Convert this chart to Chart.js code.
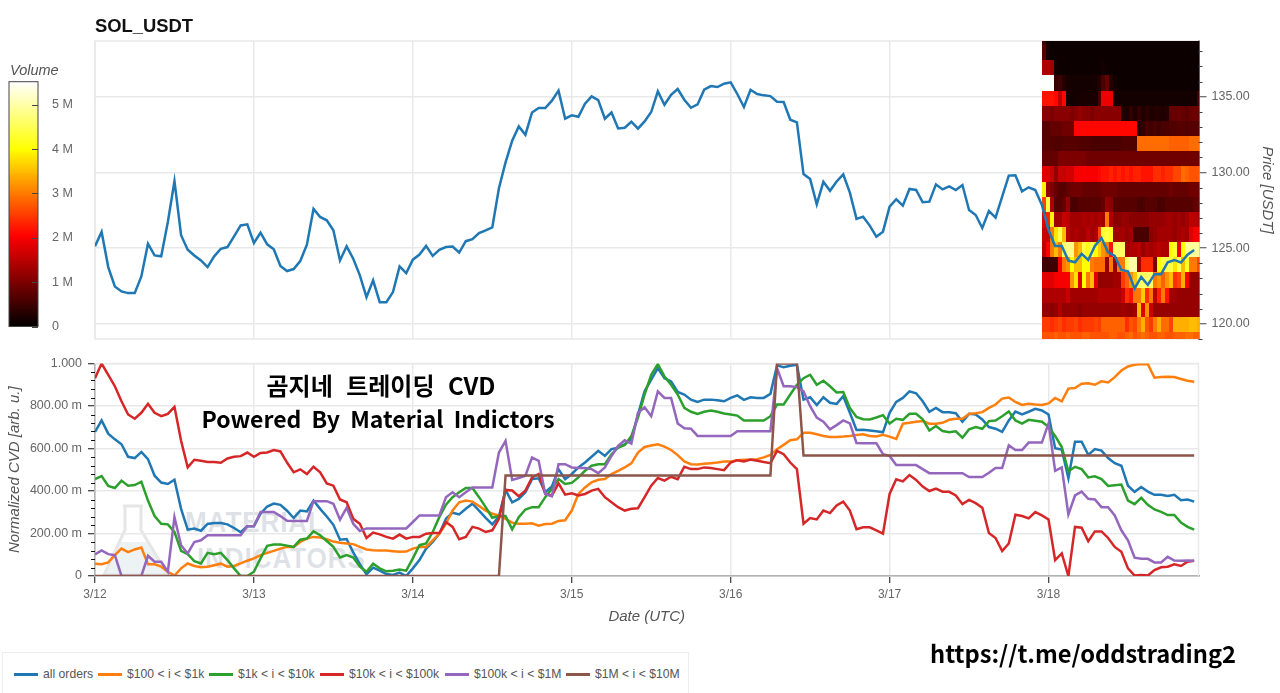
<!DOCTYPE html>
<html>
<head>
<meta charset="utf-8">
<title>SOL_USDT CVD</title>
<script src="https://cdn.jsdelivr.net/npm/chart.js@4"></script>
<style>
    html, body { margin: 0; padding: 0; background: #fff; width: 1280px; height: 693px; overflow: hidden; }
    body { position: relative; font-family: "Liberation Sans", Arial, sans-serif; }
    canvas { position: absolute; }
    .label { position: absolute; white-space: nowrap; }
    #title { left: 95px; top: 15px; font-size: 18.4px; font-weight: bold; color: #111; }
    #volumeTitle { left: 10px; top: 62px; font-size: 14.5px; font-style: italic; color: #555; }
    .overlay { font-family: "Noto Sans CJK KR", sans-serif; font-weight: 700; color: #000; transform: translateX(-50%); }
    #overlay1 { left: 381px; top: 367px; font-size: 24px; word-spacing: 8px; }
    #overlay2 { left: 378px; top: 401px; font-size: 23px; word-spacing: 5px; }
    #link { left: 1083px; top: 636px; font-size: 23.7px; }
    .mark { font-weight: bold; color: rgba(150, 165, 180, 0.32); font-size: 30px; letter-spacing: 1px; transform: scaleX(0.87); transform-origin: left; }
    #flask { position: absolute; left: 100px; top: 500px; }
    #legend { position: absolute; left: 2px; top: 652px; width: 685px; height: 40px; border: 1px solid #eee; background: #fff; font-size: 12.2px; color: #555; }
    #legend i { position: absolute; top: 20px; width: 24px; height: 2.5px; }
    #legend span { position: absolute; top: 14px; white-space: nowrap; }
</style>
</head>
<body>
<svg id="flask" width="75" height="80">
    <path d="M20 42 L48 42 L70 75 L5 75 Z" fill="#edf2f4"/>
    <path d="M23 6 L43 6 M25 6 L25 30 L4 75 L68 75 L41 30 L41 6" fill="none" stroke="#e6e6e6" stroke-width="3"/>
</svg>
<div class="label mark" style="left:185px;top:505px">MATERIAL</div>
<div class="label mark" style="left:197px;top:541px">INDICATORS</div>

<canvas id="priceChart" width="1280" height="355" style="left:0;top:0"></canvas>
<canvas id="volumeBar" width="90" height="288" style="left:0;top:60px"></canvas>
<canvas id="cvdChart" width="1280" height="290" style="left:0;top:350px"></canvas>

<div id="title" class="label">SOL_USDT</div>
<div id="volumeTitle" class="label">Volume</div>
<div id="overlay1" class="label overlay">곰지네 트레이딩 CVD</div>
<div id="overlay2" class="label overlay">Powered By Material Indictors</div>
<div id="link" class="label overlay">https://t.me/oddstrading2</div>
<div id="legend"></div>

<script>
// hourly values
const dayLabels = ['3/12', '3/13', '3/14', '3/15', '3/16', '3/17', '3/18'];
const priceTickLabels = ['120.00', '125.00', '130.00', '135.00'];
const priceMinorTicks = [119, 121, 122, 123, 124, 126, 127, 128, 129, 131, 132, 133, 134, 136, 137, 138];
const cvdTickLabels = ['0', '200.00 m', '400.00 m', '600.00 m', '800.00 m', '1.000'];
const cvdMinorTicks = [0.04, 0.08, 0.12, 0.16, 0.24, 0.28, 0.32, 0.36, 0.44, 0.48, 0.52, 0.56, 0.64, 0.68, 0.72, 0.76, 0.84, 0.88, 0.92, 0.96];
const volumeTickLabels = ['0', '1 M', '2 M', '3 M', '4 M', '5 M'];

const seriesNames = ['all orders', '$100 < i < $1k', '$1k < i < $10k', '$10k < i < $100k', '$100k < i < $1M', '$1M < i < $10M'];
const seriesColors = ['#1f77b4', '#ff7f0e', '#2ca02c', '#d62728', '#9467bd', '#8c564b'];
const legendLefts = [11, 95, 206, 317, 442, 563];

const price = [
    125.12, 126.07, 123.75, 122.47, 122.14, 122.03, 122.03, 123.13, 125.29, 124.52,
    124.46, 126.73, 129.42, 125.85, 124.9, 124.52, 124.19, 123.75, 124.46, 124.96,
    125.07, 125.78, 126.5, 126.57, 125.34, 126.02, 125.25, 124.92, 123.82, 123.49,
    123.62, 124.15, 125.23, 127.59, 127.06, 126.84, 126.18, 124.19, 125.12, 124.3,
    123.2, 121.76, 122.87, 121.43, 121.43, 122.1, 123.79, 123.35, 124.24, 124.58,
    125.15, 124.49, 124.89, 125.07, 125.11, 124.71, 125.46, 125.59, 125.99, 126.17,
    126.37, 128.96, 130.66, 132.09, 133.04, 132.49, 133.96, 134.25, 134.25, 134.74,
    135.4, 133.55, 133.77, 133.68, 134.54, 135.02, 134.78, 133.55, 133.96, 132.91,
    132.95, 133.35, 132.89, 133.37, 133.99, 135.35, 134.47, 135.13, 135.51, 134.8,
    134.27, 134.49, 135.46, 135.7, 135.64, 135.86, 135.95, 135.18, 134.32, 135.46,
    135.18, 135.09, 135.04, 134.67, 134.65, 133.48, 133.3, 129.89, 129.56, 127.89,
    129.38, 128.79, 129.4, 129.87, 128.67, 126.93, 127.08, 126.49, 125.76, 126.09,
    127.74, 128.23, 127.81, 128.91, 128.84, 128.03, 128.07, 129.21, 128.88, 129.08,
    128.84, 129.17, 127.52, 127.19, 126.33, 127.46, 127.02, 128.4, 129.79, 129.81,
    128.75, 129.02, 128.84, 127.85, 126.2, 125.15, 125.15, 124.18, 124.07, 124.62,
    124.22, 125.15, 125.67, 124.73, 124.49, 123.56, 123.47, 122.33, 123.1, 122.57,
    123.28, 123.28, 124.07, 124.22, 124.05, 124.57, 124.88
];

const allOrders = [
    .678, .732, .67, .643, .62, .561, .555, .584, .55, .472,
    .44, .433, .453, .316, .218, .223, .213, .245, .249, .249,
    .243, .226, .206, .234, .234, .293, .327, .341, .335, .307,
    .273, .308, .304, .355, .316, .28, .241, .171, .174, .111,
    .056, .008, .039, .025, .009, .005, .016, 0, .036, .075,
    .129, .16, .199, .269, .298, .29, .316, .34, .308, .274,
    .243, .28, .405, .347, .363, .394, .456, .46, .394, .421,
    .503, .456, .48, .511, .534, .561, .589, .565, .597, .604,
    .62, .643, .76, .869, .924, .978, .931, .916, .866, .854,
    .83, .819, .83, .83, .827, .822, .838, .85, .829, .841,
    .838, .838, .857, .991, .983, .989, .994, .83, .841, .804,
    .841, .815, .81, .846, .768, .687, .688, .685, .681, .676,
    .768, .819, .838, .869, .86, .822, .773, .791, .771, .771,
    .766, .726, .763, .76, .737, .701, .693, .678, .732, .774,
    .76, .773, .787, .779, .76, .601, .595, .46, .632, .632,
    .57, .597, .59, .555, .531, .519, .425, .396, .419, .397,
    .382, .382, .377, .382, .357, .36, .35
];

const orders100to1k = [
    .058, .055, .064, .098, .129, .112, .125, .134, .055, .055,
    .044, .02, .002, .036, .059, .047, .041, .044, .051, .058,
    .044, .047, .059, .072, .083, .098, .109, .118, .129, .137,
    .137, .16, .176, .184, .181, .173, .162, .156, .153, .15,
    .137, .125, .121, .12, .12, .117, .114, .115, .129, .137,
    .137, .168, .199, .246, .308, .347, .355, .35, .329, .308,
    .293, .285, .269, .251, .246, .246, .248, .237, .245, .246,
    .259, .262, .308, .386, .417, .441, .453, .456, .48, .495,
    .511, .53, .581, .607, .614, .62, .609, .593, .569, .539,
    .526, .525, .528, .531, .534, .539, .539, .545, .547, .547,
    .55, .558, .57, .597, .617, .639, .643, .674, .674, .667,
    .659, .654, .654, .656, .659, .664, .667, .659, .657, .665,
    .656, .645, .717, .721, .726, .729, .717, .717, .721, .735,
    .74, .74, .763, .766, .771, .791, .807, .835, .84, .819,
    .805, .81, .807, .805, .812, .838, .822, .882, .885, .905,
    .907, .9, .916, .911, .936, .967, .986, .994, .998, .997,
    .933, .936, .938, .936, .927, .919, .914
];

const orders1kto10k = [
    .456, .47, .424, .414, .449, .425, .428, .444, .355, .282,
    .246, .243, .207, .118, .103, .07, .059, .109, .103, .109,
    .075, .036, 0, 0, .02, .083, .142, .148, .148, .143,
    .137, .171, .176, .21, .192, .165, .137, .087, .098, .087,
    .044, .02, .058, .036, .022, .025, .031, .025, .083, .145,
    .153, .207, .277, .336, .371, .394, .414, .414, .371, .324,
    .274, .282, .282, .22, .277, .313, .324, .324, .371, .41,
    .456, .433, .438, .464, .495, .519, .526, .526, .573, .604,
    .617, .659, .745, .854, .947, .997, .939, .9, .854, .791,
    .773, .763, .773, .779, .773, .765, .76, .755, .732, .732,
    .732, .732, .752, .807, .807, .854, .9, .931, .947, .9,
    .919, .893, .864, .866, .791, .748, .738, .737, .746, .757,
    .718, .74, .735, .763, .763, .737, .685, .706, .682, .676,
    .681, .651, .69, .701, .693, .729, .732, .752, .774, .732,
    .717, .735, .731, .726, .702, .659, .607, .492, .514, .503,
    .464, .469, .456, .424, .427, .43, .355, .338, .368, .335,
    .313, .302, .287, .287, .251, .231, .218
];

const orders10kto100k = [
    .931, 1, .947, .893, .822, .76, .74, .768, .81, .768,
    .752, .763, .796, .636, .511, .547, .542, .536, .537, .533,
    .553, .561, .564, .581, .561, .579, .581, .593, .586, .534,
    .488, .502, .48, .514, .488, .436, .425, .36, .347, .269,
    .246, .179, .204, .196, .184, .176, .195, .176, .184, .184,
    .199, .202, .202, .254, .231, .173, .184, .231, .223, .207,
    .215, .269, .405, .402, .375, .402, .464, .48, .386, .379,
    .436, .383, .389, .379, .386, .402, .41, .371, .347, .324,
    .308, .316, .319, .371, .425, .461, .449, .467, .456, .514,
    .503, .503, .511, .508, .503, .498, .534, .545, .539, .548,
    .542, .536, .531, .589, .573, .534, .503, .246, .273, .266,
    .308, .296, .332, .35, .308, .22, .229, .229, .215, .199,
    .386, .455, .445, .475, .452, .421, .4, .411, .397, .396,
    .379, .338, .358, .343, .321, .202, .179, .117, .153, .288,
    .282, .271, .301, .285, .266, .075, .106, 0, .231, .227,
    .164, .21, .21, .179, .137, .114, .036, .002, .005, .002,
    .028, .041, .044, .055, .047, .067, .072
];

const orders100kto1M = [
    .101, .12, .103, .098, 0, 0, 0, 0, .095, .067,
    .067, .02, .277, .145, .106, .16, .168, .192, .192, .192,
    .192, .192, .192, .234, .235, .301, .301, .301, .282, .26,
    .259, .259, .259, .352, .352, .352, .34, .265, .321, .246,
    .212, .224, .224, .224, .224, .224, .224, .224, .254, .285,
    .285, .285, .285, .371, .394, .371, .394, .417, .417, .417,
    .417, .581, .636, .452, .461, .472, .558, .542, .386, .375,
    .526, .526, .511, .508, .508, .503, .484, .511, .565, .612,
    .639, .623, .768, .794, .752, .869, .838, .838, .718, .695,
    .693, .659, .659, .659, .659, .659, .659, .681, .681, .681,
    .681, .681, .681, .978, .893, .893, .889, .869, .799, .745,
    .726, .69, .71, .732, .718, .626, .625, .625, .625, .573,
    .565, .522, .522, .522, .522, .503, .484, .484, .484, .484,
    .484, .484, .466, .466, .466, .486, .508, .508, .615, .593,
    .593, .628, .628, .628, .718, .495, .511, .29, .379, .397,
    .363, .36, .324, .324, .285, .215, .168, .086, .081, .081,
    .064, .064, .09, .073, .072, .073, .072
];

const orders1Mto10M = [
    0, 0, 0, 0, 0, 0, 0, 0, 0, 0,
    0, 0, 0, 0, 0, 0, 0, 0, 0, 0,
    0, 0, 0, 0, 0, 0, 0, 0, 0, 0,
    0, 0, 0, 0, 0, 0, 0, 0, 0, 0,
    0, 0, 0, 0, 0, 0, 0, 0, 0, 0,
    0, 0, 0, 0, 0, 0, 0, 0, 0, 0,
    0, 0, .473, .473, .473, .473, .473, .473, .473, .473,
    .473, .473, .473, .473, .473, .473, .473, .473, .473, .473,
    .473, .473, .473, .473, .473, .473, .473, .473, .473, .473,
    .473, .473, .473, .473, .473, .473, .473, .473, .473, .473,
    .473, .473, .473, 1, 1, 1, 1, .567, .567, .567,
    .567, .567, .567, .567, .567, .567, .567, .567, .567, .567,
    .567, .567, .567, .567, .567, .567, .567, .567, .567, .567,
    .567, .567, .567, .567, .567, .567, .567, .567, .567, .567,
    .567, .567, .567, .567, .567, .567, .567, .567, .567, .567,
    .567, .567, .567, .567, .567, .567, .567, .567, .567, .567,
    .567, .567, .567, .567, .567, .567, .567
];

// heatmap: price edges of the rows, top to bottom, and volume (M) per 0.6 h column
const heatPriceEdges = [139.42, 138.42, 137.42, 136.42, 135.4, 134.4, 133.42, 132.4, 131.4, 130.42, 129.4, 128.4, 127.41, 126.42, 125.43, 124.44, 123.4, 122.4, 121.41, 120.44, 119.43, 118.42];
const heatStartHour = 143;
const heatColumnHours = 0.6;
const heatVolumes = [
    [.5, .1, .1, .1, .1, .1, .1, .1, .1, .1, .1, .1, .1, .1, .1, .1, .1, .1, .1, .1, .1, .1, .1, .1, .1, .1, .1, .1, .1, .1, .1, .1, .1, .1, .1, .1, .1, .1, .1, .1],
    [.7, .2, .1, .1, .1, .1, .1, .1, .1, .1, .1, .1, .1, .1, .1, .1, .1, .1, .1, .1, .1, .1, .1, .1, .1, .1, .1, .1, .1, .1, .1, .1, .1, .1, .1, .1, .1, .1, .1, .1],
    [1.4, 1.4, 1.3, .15, .1, .1, .1, .1, .1, .1, .1, .1, .1, .1, .1, .15, .1, .1, .1, .1, .1, .1, .1, .1, .1, .1, .1, .1, .1, .1, .1, .1, .1, .1, .1, .1, .1, .1, .1, .1],
    [5.5, 5.5, 5.5, .4, .5, .3, .2, .15, .15, .15, .15, .15, .15, .2, .3, .6, .8, .3, .15, .1, .1, .1, .1, .1, .1, .1, .1, .1, .1, .1, .1, .1, .1, .1, .1, .1, .1, .1, .1, .1],
    [2.2, 2.2, 2.2, 2.1, 1.5, 2.1, .2, .15, .15, .2, .2, .2, .2, .2, .6, 1.9, 1.9, 1.9, .2, .15, .15, .15, .15, .15, .15, .15, .15, .15, .15, .15, .15, .15, .15, .15, .15, .15, .15, .15, .15, .5],
    [1.1, 1.1, 1, 1.1, 1.1, 1.1, 1.1, 1, 1.1, 1.2, 1.1, 1.1, 1, 1.1, 1.1, 1.1, 1.1, 1.1, 1.1, 1.1, .3, .25, .4, .25, .4, .25, .35, .25, .3, .3, .25, .3, .8, .8, .85, .8, .75, .85, .85, .85],
    [.7, .7, .8, .8, .8, .9, .9, .9, 2.1, 2.1, 2.1, 2.1, 2.1, 2.1, 2.1, 2.1, 2.1, 2.1, 2.1, 2.1, 2.1, 2.1, 2.1, 2.1, .3, .4, .6, .5, .6, .5, .6, .6, .65, .65, .7, .7, .65, .7, .7, .7],
    [.7, .7, .7, .65, .65, .7, .7, .7, .7, .65, .65, .65, .6, .6, .6, .6, .6, .6, .6, .6, .65, .65, .65, .65, 2.9, 2.9, 2.9, 2.9, 2.9, 2.9, 2.9, 2.9, 2.8, 2.8, 2.8, 2.8, 2.8, 2.9, 2.9, 2.9],
    [.8, .8, .8, .8, 1, 1, 1, 1, 1, 1, 1, .9, .9, .9, .9, .9, .9, .9, .9, .9, .9, .9, .9, .9, .9, .9, .9, .9, .9, .9, .9, .9, .9, .9, .9, .9, .9, .9, .9, .9],
    [1.8, 1.8, 1.6, 1.2, 1.6, 1.6, 1.7, 1.7, 2, 2, 2, 2, 2, 2, 2.1, 2.2, 2.2, 2.3, 2.2, 2.3, 2.2, 2.3, 2.2, 2.3, 2.3, 2.2, 2.2, 2.2, 2.4, 2.4, 2.3, 2.4, 2.4, 2.6, 2.6, 2.9, 2.8, 2.7, 2.7, 2.7],
    [3.9, 1.2, 1, .8, .7, .7, .8, .9, .9, .9, .8, .8, .8, .8, .8, .9, .9, .9, .9, .8, .8, .8, .8, .8, .8, .8, .8, .8, .8, .8, .8, .8, .9, .8, .8, .8, .8, .9, .9, .9],
    [2.6, 4.4, 1.4, .7, .7, .8, 1.2, .6, .6, .7, .7, .7, .7, .7, .7, .8, 1.2, 1.1, .7, .7, .7, .7, .7, .7, .6, .6, .7, .7, .7, .6, .6, .7, .7, .7, .7, .7, .7, .7, .8, .8],
    [1.8, 2.3, 3.9, 1.3, 1.3, 1.6, 1.5, 1.3, 1.3, 1.3, 1.4, 1.3, 1.4, 1.3, 1.4, 1.3, 3, 1.4, 1.1, 1.1, 1.2, 1.2, 1.1, 1.1, 1.1, 1.1, 1.1, 1.2, 1.2, 1.2, 1.2, 1.3, 1.3, 1.2, 1.3, 1.2, 1.3, 1.5, 1.5, 1.4],
    [1.6, 1.6, 3, 3.8, 4.5, 3.5, 1.5, 1.3, 1.4, 1.3, 1.3, 1.5, 1.3, 1.4, 2.6, 4.3, 4.4, 4.2, 1.3, 1.3, 1.3, 1.2, 1.3, .6, .6, .6, .6, 1.1, 1.2, 1.3, 1.3, 1.3, 1.3, 1.2, 1.3, 1.4, 1.3, 1.8, 2, 2],
    [1.5, 2, 3, 3.5, 3, 4.5, 4.8, 4.8, 3.2, 3.5, 4.4, 4.1, 4.5, 4, 3.6, 3.2, 3, 2.2, 4.6, 4.6, 4.6, 1.3, 1.4, 1.4, 1.5, 1.2, 1.4, 1.3, 1.4, 1.5, 1.4, 1.4, 4, 4.3, 2, 4, 4.9, 4.9, 4.9, 4.9],
    [.5, .5, .5, .5, 2, 3, 3.2, 4, 3.5, 3.5, 4, 4, 3, 2.9, 2.9, 2.9, 1.2, 3, 1.2, 3, 3, 4.6, 5, 5, 1.3, 2.4, 2.4, 2.4, 1, 4, 4.4, 4.4, 4.4, 3.8, 4.5, 3.5, 4.2, 3, 3, 2.6],
    [1.8, 1.8, 1.8, 2, 2, 2, 2, 3.2, 3.8, 1.8, 4, 3, 3.5, 1.8, 1.2, 1.2, 1.2, 1.2, 1.3, 1.3, 2.5, 2.8, 3.2, 3.6, 4.6, 4.6, 4.6, 4.6, 3, 3.2, 2.8, 3.2, 3.5, 2.4, 2.6, 3.4, 2, 1.2, 1.2, 1.2],
    [1.4, 1.4, 1.4, 1.4, 1.4, 1.4, 1.6, 1.3, 1.3, 1.3, 1.3, 1.3, 1.3, 1.3, 1.4, 1.4, 1.4, 1.4, 1.4, 1.4, 1.6, 2.4, 2.2, 3, 3, 3.6, 2.4, 3, 1.5, 2.3, 3, 2.2, 1.3, 1.3, 1.2, 1.2, 1.2, 1.2, 1.2, 1.2],
    [1.2, 1.2, 1.1, 1.2, 1.4, 1.2, 1.2, 1.2, 1.2, 1.1, 1.2, 1.2, 1.2, 1.2, 1.2, 1.2, 1.2, 1.2, 1.2, 1.2, 1.3, 1.2, 1.2, 1.3, 3.5, 1.8, 3.2, 1.6, 1.2, 1.2, 1.2, 1.2, 1.2, 1.2, 1.2, 1.2, 1.2, 1.2, 1.2, 1.2],
    [2.5, 2.5, 2.4, 2.5, 2.6, 2.4, 2.5, 2.5, 2.6, 2.4, 2.5, 2.5, 2.5, 2.6, 2.5, 2.8, 2.8, 2.8, 2.8, 2.8, 2.8, 2.4, 2.7, 2.6, 3, 3.4, 2.7, 2.5, 3, 3.4, 2.9, 2.9, 2.6, 3.4, 3.4, 3.4, 3.4, 3.5, 3.5, 3.4],
    [2.7, 2.7, 2.7, 2.8, 2.7, 2.7, 2.8, 2.7, 2.7, 2.7, 2.8, 2.8, 2.7, 2.7, 2.7, 2.7, 2.7, 2.8, 2.8, 2.7, 2.7, 2.8, 2.9, 2.7, 2.8, 2.9, 2.8, 2.7, 2.7, 2.8, 2.8, 2.7, 2.7, 2.8, 2.8, 2.8, 2.9, 2.9, 2.8, 2.8]
];

// colour map of the heatmap and its colour bar
const colorStops = [0, 2.05, 3.05, 4, 5.52];
const colorStopRGB = [[0, 0, 0], [255, 0, 0], [255, 128, 0], [255, 255, 0], [255, 255, 255]];

function volumeColor(v) {
    let i = 0;
    while (i < colorStops.length - 2 && v > colorStops[i + 1]) i++;
    const t = Math.min(1, (v - colorStops[i]) / (colorStops[i + 1] - colorStops[i]));
    const a = colorStopRGB[i], b = colorStopRGB[i + 1];
    return `rgb(${a.map((c, k) => Math.round(c + (b[k] - c) * t)).join(',')})`;
}

const toPoints = values => values.map((v, i) => ({ x: i, y: v }));

// scale helpers
const GRID = '#e9e9e9';
const TICK_TEXT = '#666';
const AXIS_TITLE = { size: 15, style: 'italic' };

Chart.defaults.font.family = '"Liberation Sans", Arial, sans-serif';
Chart.defaults.font.size = 12.5;
Chart.defaults.color = TICK_TEXT;
Chart.defaults.animation = false;

const framePlugin = {
    id: 'frame',
    beforeDatasetsDraw(chart) {
        const { ctx, chartArea: a } = chart;
        ctx.save();
        ctx.strokeStyle = GRID;
        ctx.lineWidth = 1.5;
        ctx.strokeRect(a.left, a.top, a.right - a.left, a.bottom - a.top);
        ctx.restore();
    }
};

function minorTicksPlugin(scaleId, values, length, color) {
    return {
        id: 'minorTicks',
        afterDraw(chart) {
            const scale = chart.scales[scaleId];
            const dir = scale.position === 'right' ? 1 : -1;
            const x0 = dir > 0 ? scale.left : scale.right;
            const { ctx } = chart;
            ctx.save();
            ctx.strokeStyle = color;
            ctx.lineWidth = 1;
            values.forEach(v => {
                const y = Math.round(scale.getPixelForValue(v)) + 0.5;
                ctx.beginPath();
                ctx.moveTo(x0, y);
                ctx.lineTo(x0 + dir * length, y);
                ctx.stroke();
            });
            ctx.restore();
        }
    };
}

const heatmapPlugin = {
    id: 'heatmap',
    beforeDatasetsDraw(chart) {
        const { ctx, chartArea: a, scales: { x, y } } = chart;
        ctx.save();
        ctx.beginPath();
        ctx.rect(a.left, a.top, a.right - a.left + 1, a.bottom - a.top);
        ctx.clip();
        heatVolumes.forEach((row, r) => {
            const yTop = Math.round(y.getPixelForValue(heatPriceEdges[r]));
            const yBottom = Math.round(y.getPixelForValue(heatPriceEdges[r + 1]));
            row.forEach((v, c) => {
                const x0 = Math.round(x.getPixelForValue(heatStartHour + c * heatColumnHours));
                const x1 = Math.round(x.getPixelForValue(heatStartHour + (c + 1) * heatColumnHours));
                ctx.fillStyle = volumeColor(v);
                ctx.fillRect(x0, yTop, x1 - x0, yBottom - yTop);
            });
        });
        ctx.restore();
    }
};

const colorBarPlugin = {
    id: 'colorBar',
    beforeDraw(chart) {
        const { ctx, chartArea: a, scales: { y } } = chart;
        const steps = 256;
        for (let i = 0; i < steps; i++) {
            const v0 = y.max * i / steps, v1 = y.max * (i + 1) / steps;
            const yTop = Math.round(y.getPixelForValue(v1)), yBottom = Math.round(y.getPixelForValue(v0));
            ctx.fillStyle = volumeColor((v0 + v1) / 2);
            ctx.fillRect(a.left, yTop, a.right - a.left, yBottom - yTop);
        }
    },
    afterDraw(chart) {
        const { ctx, chartArea: a, scales: { y } } = chart;
        ctx.save();
        ctx.strokeStyle = '#444';
        ctx.lineWidth = 1;
        ctx.strokeRect(a.left, a.top, a.right - a.left, a.bottom - a.top);
        y.ticks.forEach(t => {
            const py = Math.round(y.getPixelForValue(t.value)) + 0.5;
            ctx.beginPath();
            ctx.moveTo(a.right - 6, py);
            ctx.lineTo(a.right, py);
            ctx.stroke();
        });
        ctx.restore();
    }
};

const xGrid = { color: GRID, lineWidth: 1.5 };

// Price chart with volume heatmap
new Chart(document.getElementById('priceChart'), {
    type: 'line',
    data: {
        datasets: [{
            label: 'Price',
            data: toPoints(price),
            borderColor: '#1f77b4',
            borderWidth: 2.5,
            pointRadius: 0,
            tension: 0
        }]
    },
    options: {
        responsive: false,
        layout: { padding: { left: 95, top: 41, bottom: 16, right: 0 } },
        plugins: { legend: { display: false }, tooltip: { enabled: false } },
        scales: {
            x: {
                type: 'linear',
                min: 0,
                max: 166.65,
                afterFit: s => { s.height = 0; },
                ticks: { display: false, stepSize: 24, includeBounds: false },
                grid: { ...xGrid, drawTicks: false },
                border: { display: false }
            },
            y: {
                type: 'linear',
                position: 'right',
                min: 119,
                max: 138.68,
                afterFit: s => { s.width = 81.5; },
                ticks: { stepSize: 5, includeBounds: false, padding: 5, callback: (v, i) => priceTickLabels[i] },
                grid: { color: GRID, lineWidth: 1.5, tickColor: '#444', tickLength: 8, tickWidth: 1 },
                border: { color: '#555', width: 1.5 },
                title: { display: true, text: 'Price [USDT]', font: AXIS_TITLE, color: '#555', padding: { top: 4, bottom: 0 } }
            }
        }
    },
    plugins: [framePlugin, heatmapPlugin, minorTicksPlugin('y', priceMinorTicks, 4, '#444')]
});

// Colour bar
new Chart(document.getElementById('volumeBar'), {
    type: 'line',
    data: { datasets: [] },
    options: {
        responsive: false,
        layout: { padding: { left: 9, top: 21.7, bottom: 12.7, right: 0 } },
        plugins: { legend: { display: false }, tooltip: { enabled: false } },
        scales: {
            x: { type: 'linear', display: false },
            y: {
                type: 'linear',
                position: 'right',
                min: 0,
                max: 5.52,
                afterFit: s => { s.width = 52; },
                ticks: { stepSize: 1, includeBounds: false, padding: 14, callback: (v, i) => volumeTickLabels[i] },
                grid: { drawOnChartArea: false, drawTicks: false },
                border: { display: false }
            }
        }
    },
    plugins: [colorBarPlugin]
});

// Normalized CVD chart
const cvdSeries = [allOrders, orders100to1k, orders1kto10k, orders10kto100k, orders100kto1M, orders1Mto10M];

new Chart(document.getElementById('cvdChart'), {
    type: 'line',
    data: {
        datasets: cvdSeries.map((values, i) => ({
            label: seriesNames[i],
            data: toPoints(values),
            borderColor: seriesColors[i],
            borderWidth: 2.5,
            pointRadius: 0,
            tension: 0,
            order: cvdSeries.length - i
        }))
    },
    options: {
        responsive: false,
        layout: { padding: { left: 0, top: 11, bottom: 0, right: 81.5 } },
        plugins: { legend: { display: false }, tooltip: { enabled: false } },
        scales: {
            x: {
                type: 'linear',
                min: 0,
                max: 166.65,
                afterFit: s => { s.height = 64; },
                ticks: { stepSize: 24, includeBounds: false, autoSkip: false, maxRotation: 0, padding: 4, font: { size: 12 }, callback: (v, i) => dayLabels[i] },
                grid: { ...xGrid, tickColor: '#111', tickLength: 7, tickWidth: 1 },
                border: { color: '#111', width: 1.5 },
                title: { display: true, text: 'Date (UTC)', font: AXIS_TITLE, color: '#555', padding: { top: 0, bottom: 14 } }
            },
            y: {
                type: 'linear',
                position: 'left',
                min: 0,
                max: 1,
                afterFit: s => { s.width = 95; },
                ticks: { stepSize: 0.2, includeBounds: false, padding: 6, callback: (v, i) => cvdTickLabels[i] },
                grid: { color: GRID, lineWidth: 1.5, tickColor: '#111', tickLength: 7, tickWidth: 1 },
                border: { color: '#111', width: 1.5 },
                title: { display: true, text: 'Normalized CVD [arb. u.]', font: AXIS_TITLE, color: '#555', padding: { top: 6, bottom: 0 } }
            }
        }
    },
    plugins: [framePlugin, minorTicksPlugin('y', cvdMinorTicks, 4, '#111')]
});

// Legend
const legend = document.getElementById('legend');
seriesNames.forEach((name, i) => {
    const line = document.createElement('i');
    line.style.left = legendLefts[i] + 'px';
    line.style.background = seriesColors[i];
    const text = document.createElement('span');
    text.style.left = (legendLefts[i] + 29) + 'px';
    text.textContent = name;
    legend.append(line, text);
});
</script>
</body>
</html>
